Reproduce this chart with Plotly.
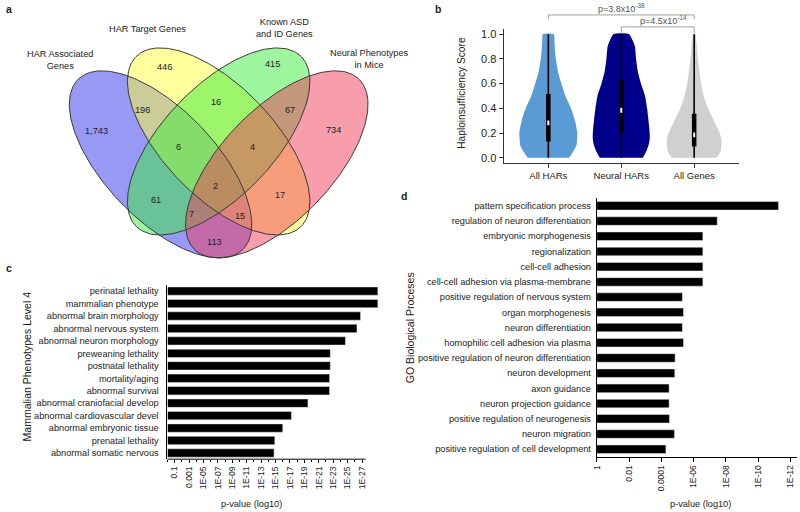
import numpy as np
import plotly.graph_objects as go

W, H = 800, 512
FONT = "Liberation Sans, Arial, sans-serif"
TXT = "#222222"

# ---------------- data ----------------
# a: Venn diagram
venn_sets = ["HAR Associated<br>Genes", "HAR Target Genes",
             "Known ASD<br>and ID Genes", "Neural Phenotypes<br>in Mice"]
venn_regions = ["A", "B", "C", "D", "AB", "BC", "CD", "ABC", "BCD",
                "ABCD", "AC", "BD", "ACD", "ABD", "AD"]
venn_counts = [1743, 446, 415, 734, 196, 16, 67, 6, 4, 2, 61, 17, 7, 15, 113]

# b: haploinsufficiency violins
violin_cats = ["All HARs", "Neural HARs", "All Genes"]
violin_levels = [0, 0.05, 0.1, 0.15, 0.2, 0.3, 0.4, 0.5, 0.6, 0.7, 0.8, 0.9, 0.95, 1.0]
density_all_hars = [0.71, 0.86, 0.97, 0.99, 1.0, 0.92, 0.78, 0.59, 0.45, 0.33, 0.26, 0.22, 0.21, 0.19]
density_neural_hars = [0.74, 0.86, 0.94, 0.98, 0.98, 0.94, 0.89, 0.82, 0.68, 0.57, 0.51, 0.47, 0.39, 0.27]
density_all_genes = [0.77, 0.91, 0.94, 0.94, 0.88, 0.68, 0.48, 0.33, 0.24, 0.18, 0.13, 0.09, 0.07, 0.045]
box_min = [0.0, 0.0, 0.0]
box_q1 = [0.132, 0.196, 0.091]
box_median = [0.282, 0.384, 0.185]
box_q3 = [0.516, 0.626, 0.355]
box_max = [1.0, 1.0, 1.0]
pval_pairs = [(0, 2), (1, 2)]
pval_text = ["p=3.8x10<sup>-38</sup>", "p=4.5x10<sup>-14</sup>"]

# c: mammalian phenotypes
mp_terms = ["perinatal lethality", "mammalian phenotype", "abnormal brain morphology",
            "abnormal nervous system", "abnormal neuron morphology", "preweaning lethality",
            "postnatal lethality", "mortality/aging", "abnormal survival",
            "abnormal craniofacial develop", "abnormal cardiovascular devel",
            "abnormal embryonic tissue", "prenatal lethality", "abnormal somatic nervous"]
mp_neglog10p = [29.2, 29.2, 26.8, 26.3, 24.7, 22.6, 22.6, 22.5, 22.5, 19.5, 17.2, 16.0, 14.9, 14.8]
mp_tick_exp = [1, 3, 5, 7, 9, 11, 13, 15, 17, 19, 21, 23, 25, 27]
mp_tick_text = ["0.1", "0.001", "1E-05", "1E-07", "1E-09", "1E-11", "1E-13", "1E-15",
                "1E-17", "1E-19", "1E-21", "1E-23", "1E-25", "1E-27"]

# d: GO biological processes
go_terms = ["pattern specification process", "regulation of neuron differentiation",
            "embryonic morphogenesis", "regionalization", "cell-cell adhesion",
            "cell-cell adhesion via plasma-membrane", "positive regulation of nervous system",
            "organ morphogenesis", "neuron differentiation", "homophilic cell adhesion via plasma",
            "positive regulation of neuron differentiation", "neuron development",
            "axon guidance", "neuron projection guidance", "positive regulation of neurogenesis",
            "neuron migration", "positive regulation of cell development"]
go_neglog10p = [11.25, 7.46, 6.57, 6.57, 6.57, 6.57, 5.30, 5.37, 5.30, 5.37,
                4.85, 4.83, 4.48, 4.48, 4.50, 4.81, 4.28]
go_tick_exp = [0, 2, 4, 6, 8, 10, 12]
go_tick_text = ["1", "0.01", "0.0001", "1E-06", "1E-08", "1E-10", "1E-12"]

# ---------------- layout geometry ----------------
C_XDOM, C_XRNG = [163.5 / W, 378.1 / W], [0, 29.6]
C_YDOM = [1 - 460 / H, 1 - 285 / H]
D_XDOM, D_XRNG = [595.5 / W, 797 / W], [0, 12.4]
D_YDOM = [1 - 457.6 / H, 1 - 198 / H]
B_XDOM, B_XRNG = [501.7 / W, 739 / W], [-0.614, 2.62]
B_YDOM, B_YRNG = [1 - 162.3 / H, 1 - 28.3 / H], [-0.04, 1.04]


def to_px(v, dom, rng):
    return (dom[0] + (v - rng[0]) / (rng[1] - rng[0]) * (dom[1] - dom[0])) * W


fig = go.Figure()

# ---- a: Venn ellipses (overlay pixel canvas x4/y4) ----
ell_geom = {"A": (156.5, 164, 46), "B": (215, 141, 46),
            "C": (215, 141, 134), "D": (273.5, 164, 134)}
EA, EB = 119, 55.5
venn_fills = ["rgba(50,50,235,0.5)", "rgba(255,255,60,0.5)",
              "rgba(60,235,60,0.5)", "rgba(240,60,90,0.5)"]
tt = np.linspace(0, 2 * np.pi, 240)
ell_pts = []
for key in ["A", "B", "C", "D"]:
    cx, cy, ang = ell_geom[key]
    th = np.deg2rad(ang)
    ex = cx + EA * np.cos(tt) * np.cos(th) - EB * np.sin(tt) * np.sin(th)
    ey = cy + EA * np.cos(tt) * np.sin(th) + EB * np.sin(tt) * np.cos(th)
    ell_pts.append((ex, ey))
for (ex, ey), fc in zip(ell_pts, venn_fills):
    fig.add_trace(go.Scatter(x=ex, y=ey, xaxis="x4", yaxis="y4", mode="lines",
                             fill="toself", fillcolor=fc, line=dict(width=0),
                             hoverinfo="skip", showlegend=False))
for ex, ey in ell_pts:
    fig.add_trace(go.Scatter(x=ex, y=ey, xaxis="x4", yaxis="y4", mode="lines",
                             line=dict(color="#3a3a3a", width=1),
                             hoverinfo="skip", showlegend=False))

venn_label_pos = {"A": (92, 131), "B": (161, 66), "C": (269, 63), "D": (331, 129),
                  "AB": (138, 109), "BC": (212, 101), "CD": (287, 109),
                  "ABC": (175, 147), "BCD": (249, 147), "ABCD": (212, 186),
                  "AC": (152, 200), "BD": (277, 195), "ACD": (188, 214),
                  "ABD": (236, 216), "AD": (211, 242)}
annotations = []
for reg, cnt in zip(venn_regions, venn_counts):
    px, py = venn_label_pos[reg]
    annotations.append(dict(x=px, y=py, xref="x4", yref="y4", text=f"{cnt:,}",
                            showarrow=False, font=dict(size=9.2, color=TXT, family=FONT)))
venn_set_pos = [(55, 59), (143, 28), (281, 27), (367, 58)]
for name, (px, py) in zip(venn_sets, venn_set_pos):
    annotations.append(dict(x=px, y=py, xref="x4", yref="y4", text=name, showarrow=False,
                            font=dict(size=9.2, color=TXT, family=FONT)))

# ---- b: violins ----
violin_colors = ["#5b9bd5", "#00008b", "#d0d0d0"]
VMAX_HALF = 0.398
dens_all = [density_all_hars, density_neural_hars, density_all_genes]
for i, (dens, col) in enumerate(zip(dens_all, violin_colors)):
    d = np.array(dens)
    lv = np.array(violin_levels)
    xs = np.concatenate([i + VMAX_HALF * d, (i - VMAX_HALF * d)[::-1]])
    ys = np.concatenate([lv, lv[::-1]])
    fig.add_trace(go.Scatter(x=xs, y=ys, xaxis="x3", yaxis="y3", mode="lines",
                             fill="toself", fillcolor=col,
                             line=dict(width=0, shape="spline", smoothing=0.6),
                             hoverinfo="skip", showlegend=False))
for i in range(len(violin_cats)):
    fig.add_trace(go.Scatter(x=[i, i], y=[box_min[i], box_max[i]], xaxis="x3", yaxis="y3",
                             mode="lines", line=dict(color="black", width=1.6),
                             hoverinfo="skip", showlegend=False))
    fig.add_trace(go.Scatter(x=[i, i], y=[box_q1[i], box_q3[i]], xaxis="x3", yaxis="y3",
                             mode="lines", line=dict(color="black", width=4.5),
                             hoverinfo="skip", showlegend=False))
    fig.add_trace(go.Scatter(x=[i, i], y=[box_median[i] - 0.02, box_median[i] + 0.02],
                             xaxis="x3", yaxis="y3", mode="lines",
                             line=dict(color="white", width=2),
                             hoverinfo="skip", showlegend=False))

# ---- c: bars ----
fig.add_trace(go.Bar(x=mp_neglog10p, y=mp_terms, orientation="h", marker_color="black",
                     width=0.67, xaxis="x", yaxis="y", showlegend=False, hoverinfo="skip"))
# ---- d: bars ----
fig.add_trace(go.Bar(x=go_neglog10p, y=go_terms, orientation="h", marker_color="black",
                     width=0.56, xaxis="x2", yaxis="y2", showlegend=False, hoverinfo="skip"))

shapes = []
# c bottom axis line (ends at last labelled decade, bars overflow it)
shapes.append(dict(type="line", xref="x4", yref="y4",
                   x0=to_px(0, C_XDOM, C_XRNG), x1=to_px(27.5, C_XDOM, C_XRNG),
                   y0=460, y1=460, line=dict(color="black", width=1)))

# b significance brackets
BR_Y = [14, 26]
BR_DROP = [4.5, 6.5]
for (i0, i1), txt, by, dr in zip(pval_pairs, pval_text, BR_Y, BR_DROP):
    x0 = to_px(i0, B_XDOM, B_XRNG)
    x1 = to_px(i1, B_XDOM, B_XRNG)
    for xa, xb, ya, yb in [(x0, x1, by, by), (x0, x0, by, by + dr), (x1, x1, by, by + dr)]:
        shapes.append(dict(type="line", xref="x4", yref="y4", x0=xa, x1=xb, y0=ya, y1=yb,
                           line=dict(color="#a0a0a0", width=1)))
    annotations.append(dict(x=(x0 + x1) / 2 + (0 if i0 == 0 else 6), y=by - 6.5,
                            xref="x4", yref="y4", text=txt, showarrow=False,
                            font=dict(size=9, color="#555555", family=FONT)))

# titles and panel letters
texts = [
    ("a", 4, 8, 0, 10.5, True), ("b", 436, 8, 0, 10.5, True),
    ("c", 4, 268, 0, 10.5, True), ("d", 402, 196, 0, 10.5, True),
    ("Haploinsufficiency Score", 460, 92, -90, 10.2, False),
    ("Mammalian Phenotypes Level 4", 22, 367, -90, 10.5, False),
    ("GO Biological Proceses", 407, 328, -90, 10.5, False),
    ("p-value (log10)", 248, 505, 0, 9.2, False),
    ("p-value (log10)", 700, 505, 0, 9.2, False),
]
for s, px, py, ang, sz, bold in texts:
    annotations.append(dict(x=px, y=py, xref="x4", yref="y4",
                            text=f"<b>{s}</b>" if bold else s, textangle=ang,
                            showarrow=False, font=dict(size=sz, color=TXT, family=FONT)))

tickfont = dict(family=FONT, color=TXT)
fig.update_layout(
    width=W, height=H, margin=dict(l=0, r=0, t=0, b=0),
    paper_bgcolor="white", plot_bgcolor="rgba(0,0,0,0)",
    font=dict(family=FONT, color=TXT), showlegend=False, hovermode=False,
    xaxis=dict(domain=C_XDOM, range=C_XRNG, anchor="y", showgrid=False, zeroline=False,
               showline=False, tickmode="array", tickvals=mp_tick_exp, ticktext=mp_tick_text,
               tickangle=-90, ticks="outside", ticklen=3, tickcolor="black",
               tickfont=dict(size=8.5, **tickfont),
               minor=dict(tickmode="array", tickvals=list(range(0, 28)), ticks="outside",
                          ticklen=2, tickcolor="black")),
    yaxis=dict(domain=C_YDOM, anchor="x", type="category", autorange="reversed",
               showgrid=False, zeroline=False, showline=True, linecolor="black", linewidth=1,
               ticks="", ticklabelstandoff=6, tickfont=dict(size=9.2, **tickfont)),
    xaxis2=dict(domain=D_XDOM, range=D_XRNG, anchor="y2", showgrid=False, zeroline=False,
                showline=True, linecolor="black", linewidth=1, tickmode="array",
                tickvals=go_tick_exp, ticktext=go_tick_text, tickangle=-90, ticks="outside",
                ticklen=4, tickcolor="black", tickfont=dict(size=8.5, **tickfont)),
    yaxis2=dict(domain=D_YDOM, anchor="x2", type="category", autorange="reversed",
                showgrid=False, zeroline=False, showline=True, linecolor="black", linewidth=1,
                ticks="", ticklabelstandoff=3, tickfont=dict(size=9.2, **tickfont)),
    xaxis3=dict(domain=B_XDOM, range=B_XRNG, anchor="y3", showgrid=False, zeroline=False,
                showline=True, linecolor="#333333", linewidth=1, tickmode="array",
                tickvals=list(range(len(violin_cats))), ticktext=violin_cats,
                ticks="outside", ticklen=4, tickcolor="#333333",
                tickfont=dict(size=9.5, **tickfont)),
    yaxis3=dict(domain=B_YDOM, range=B_YRNG, anchor="x3", showgrid=False, zeroline=False,
                showline=True, linecolor="#333333", linewidth=1, tickmode="array",
                tickvals=[0, 0.2, 0.4, 0.6, 0.8, 1.0], tickformat=".1f", ticks="outside",
                ticklen=4, tickcolor="#333333", tickfont=dict(size=11, **tickfont)),
    xaxis4=dict(domain=[0, 1], range=[0, W], anchor="y4", visible=False, fixedrange=True),
    yaxis4=dict(domain=[0, 1], range=[H, 0], anchor="x4", visible=False, fixedrange=True),
    shapes=shapes, annotations=annotations,
)

fig.write_html("out.html", config={"displayModeBar": False},
               post_script="document.body.style.margin='0';document.body.style.padding='0';")
